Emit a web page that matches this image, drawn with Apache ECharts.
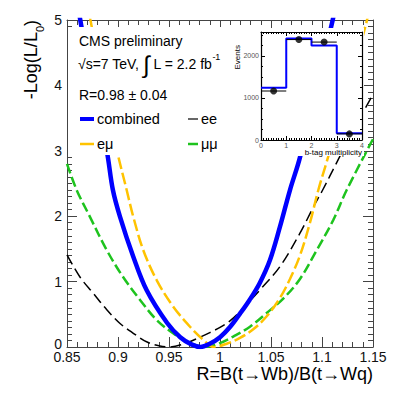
<!DOCTYPE html>
<html><head><meta charset="utf-8">
<script src="https://cdn.jsdelivr.net/npm/echarts/dist/echarts.min.js"></script>
<style>html,body{margin:0;padding:0;background:#fff}#c{width:415px;height:399px}</style>
</head><body><div id="c"></div>
<script>
// ---- main likelihood scans: [R, -Log(L/L0)] ----
const combinedScan = [[0.860,5.4],[0.863,5.0],[0.876,3.95],[0.889,3.0],[0.895,2.40],[0.902,1.99],[0.915,1.38],[0.928,0.87],[0.948,0.37],[0.961,0.15],[0.972,0.04],[0.981,0.0],[0.990,0.05],[1.000,0.15],[1.010,0.31],[1.0196,0.51],[1.029,0.72],[1.039,0.98],[1.049,1.33],[1.0588,1.84],[1.0686,2.40],[1.0784,2.90],[1.095,4.0],[1.1105,5.0],[1.114,5.3]];
const emuScan = [[0.870,5.3],[0.873,5.0],[0.886,3.95],[0.899,3.0],[0.9085,2.40],[0.915,1.99],[0.9248,1.48],[0.938,1.02],[0.954,0.62],[0.9706,0.31],[0.9836,0.11],[0.994,0.0],[1.0066,0.05],[1.0196,0.14],[1.0326,0.27],[1.0458,0.47],[1.0588,0.75],[1.0686,1.04],[1.0784,1.40],[1.0882,1.90],[1.0964,2.40],[1.1046,2.83],[1.118,3.55],[1.131,4.25],[1.143,4.93],[1.147,5.2]];
const eeScan = [[0.85,1.41],[0.8627,1.07],[0.8758,0.82],[0.889,0.57],[0.902,0.36],[0.915,0.21],[0.928,0.08],[0.941,0.015],[0.950,0.0],[0.967,0.06],[0.9804,0.15],[0.990,0.22],[1.000,0.30],[1.0098,0.40],[1.0196,0.54],[1.029,0.70],[1.039,0.87],[1.0588,1.23],[1.0784,1.74],[1.0915,2.14],[1.1013,2.42],[1.1144,2.82],[1.130,3.30],[1.150,3.86]];
const mumuScan = [[0.85,2.80],[0.8595,2.40],[0.8725,1.99],[0.889,1.48],[0.905,1.07],[0.9216,0.72],[0.938,0.41],[0.954,0.21],[0.9706,0.06],[0.985,0.0],[1.000,0.06],[1.013,0.16],[1.0294,0.31],[1.0458,0.52],[1.062,0.74],[1.0784,1.04],[1.0948,1.48],[1.111,1.94],[1.1242,2.40],[1.150,3.18]];

// ---- inset: b-tag multiplicity ----
const binEdges = [0,1,2,3,4];
const binCenters = [0.5,1.5,2.5,3.5];
const mcEvents = [1246,2418,2246,158];
const dataEvents = [1166,2390,2330,145];

// ---- axis ticks ----
const xMin = 0.85, xMax = 1.15, xStep = 0.05;
const yMin = 0, yMax = 5, yStep = 1;
const insetXMax = 4, insetYMax = 2570;

const FONT = 'Liberation Sans, Arial, Helvetica, sans-serif';
const AX = '#444';

const chart = echarts.init(document.getElementById('c'), null, {renderer:'svg'});

const stepData = binEdges.map((e,i)=>[e, mcEvents[Math.min(i, mcEvents.length-1)]]);
const dataPts = binCenters.map((c,i)=>[c, dataEvents[i]]);

function mainX(pos, labels){
  return {type:'value', gridIndex:0, position:pos, min:xMin, max:xMax, interval:xStep,
    axisLine:{show:true, onZero:false, lineStyle:{color:AX, width:1}},
    axisTick:{show:true, inside:true, length:10, lineStyle:{color:AX}},
    minorTick:{show:true, splitNumber:5, length:5, lineStyle:{color:AX}},
    axisLabel:{show:labels, fontFamily:FONT, fontSize:14, lineHeight:10, color:'#111', margin:5,
      formatter:v=>String(+(+v).toFixed(2))},
    splitLine:{show:false}, minorSplitLine:{show:false}};
}
function mainY(pos, labels){
  return {type:'value', gridIndex:0, position:pos, min:yMin, max:yMax, interval:yStep,
    axisLine:{show:true, onZero:false, lineStyle:{color:AX, width:1}},
    axisTick:{show:true, inside:true, length:10, lineStyle:{color:AX}},
    minorTick:{show:true, splitNumber:10, length:5, lineStyle:{color:AX}},
    axisLabel:{show:labels, fontFamily:FONT, fontSize:14, lineHeight:9, color:'#111', margin:5,
      formatter:v=>(+v===0 ? '{z|0}' : String(v)),
      rich:{z:{fontFamily:FONT, fontSize:14, lineHeight:9, color:'#111', padding:[0,0,6,0]}}},
    splitLine:{show:false}};
}
function insetX(pos, labels){
  return {type:'value', gridIndex:1, position:pos, min:0, max:insetXMax, interval:1, z:20,
    axisLine:{show:true, onZero:false, lineStyle:{color:'#000', width:1.2}},
    axisTick:{show:true, inside:true, length:4, lineStyle:{color:'#000'}},
    minorTick:{show:true, splitNumber:10, length:2, lineStyle:{color:'#000'}},
    axisLabel:{show:labels, fontFamily:FONT, fontSize:7, color:'#555', margin:2},
    splitLine:{show:false}};
}
function insetY(pos, labels){
  return {type:'value', gridIndex:1, position:pos, min:0, max:insetYMax, interval:1000, z:20,
    axisLine:{show:true, onZero:false, lineStyle:{color:'#000', width:1.2}},
    axisTick:{show:true, inside:true, length:4, lineStyle:{color:'#000'}},
    minorTick:{show:true, splitNumber:4, length:2, lineStyle:{color:'#000'}},
    axisLabel:{show:labels, fontFamily:FONT, fontSize:7, color:'#555', margin:2, showMaxLabel:false,
      formatter:v=>String(v)},
    splitLine:{show:false}};
}

function scan(data, color, width, dash){
  return {type:'line', xAxisIndex:0, yAxisIndex:0, data:data, smooth:0.35, showSymbol:false,
    clip:true, z:3, lineStyle:{color:color, width:width, type:dash}, silent:true, animation:false};
}

const T = (x,y,text,size,extra)=>({type:'text', x:x, y:y, z:30,
  style:Object.assign({text:text, font:size+'px '+FONT, fontFamily:FONT, fontSize:size, fill:'#000',
    textAlign:'left', align:'left', textVerticalAlign:'middle', verticalAlign:'middle'}, extra||{})});
const L = (x1,x2,y,color,w)=>({type:'line', z:30, shape:{x1:x1,y1:y,x2:x2,y2:y}, style:{stroke:color, lineWidth:w}});

const option = {
  animation:false,
  backgroundColor:'#fff',
  grid:[{left:67, right:42, top:20, bottom:52},
        {left:261, right:53, top:32, bottom:259, z:20}],
  xAxis:[mainX('bottom',true), mainX('top',false), insetX('bottom',true), insetX('top',false)],
  yAxis:[mainY('left',true), mainY('right',false), insetY('left',true), insetY('right',false)],
  series:[
    scan(eeScan, '#000000', 1.5, [11,5]),
    scan(mumuScan, '#1ec31e', 2.5, [10,4]),
    scan(emuScan, '#ffc300', 2.5, [12,4]),
    scan(combinedScan, '#0000ff', 4.5, 'solid'),
    {type:'line', xAxisIndex:2, yAxisIndex:2, data:stepData, step:'end', showSymbol:false, z:21,
      lineStyle:{color:'#0000ff', width:2}, animation:false},
    {type:'custom', xAxisIndex:2, yAxisIndex:2, data:dataPts, z:22,
      renderItem:(params, api)=>{
        const x = api.value(0), y = api.value(1);
        const p1 = api.coord([x-0.5, y]), p2 = api.coord([x+0.5, y]);
        return {type:'line', shape:{x1:p1[0], y1:p1[1], x2:p2[0], y2:p2[1]}, style:{stroke:'#000', lineWidth:1}};
      }},
    {type:'scatter', xAxisIndex:2, yAxisIndex:2, data:dataPts, symbol:'circle', symbolSize:7, z:23,
      itemStyle:{color:'#000'}, animation:false}
  ],
  graphic:{elements:[
    {type:'rect', z:15, shape:{x:229, y:28, width:135, height:128}, style:{fill:'#fff'}},
    {type:'rect', z:15, shape:{x:68, y:27, width:161, height:128}, style:{fill:'#fff'}},
    T(79, 41, 'CMS preliminary', 14),
    {type:'text', x:78, y:64, z:30, style:{
      text:'{a|√s=7 TeV, }{i|∫}{a| L = 2.2 fb}{s|-1}', font:'14px '+FONT,
      textAlign:'left', align:'left', textVerticalAlign:'middle', verticalAlign:'middle',
      rich:{a:{fontFamily:FONT, fontSize:14, fill:'#000', color:'#000', lineHeight:24, verticalAlign:'middle'},
            i:{fontFamily:FONT, fontSize:24, fill:'#000', color:'#000', lineHeight:24, verticalAlign:'middle'},
            s:{fontFamily:FONT, fontSize:9, fill:'#000', color:'#000', lineHeight:22, verticalAlign:'top'}}}},
    T(79, 95, 'R=0.98 ± 0.04', 14),
    L(80, 94, 119, '#0000ff', 4),
    T(97, 119, 'combined', 14.5),
    L(188, 198, 119, '#000000', 1.2),
    T(201, 119, 'ee', 14.5),
    L(80, 94, 144, '#ffc300', 2.5),
    T(97, 144, 'eμ', 14.5),
    L(188, 198, 144, '#1ec31e', 2.5),
    T(201, 144, 'μμ', 14.5),
    {type:'text', x:31, y:20, z:30, rotation:Math.PI/2, style:{
      text:'{a|-Log(L/L}{b|0}{a|)}', font:'18px '+FONT,
      textAlign:'right', align:'right', textVerticalAlign:'middle', verticalAlign:'middle',
      rich:{a:{fontFamily:FONT, fontSize:18, fill:'#000', color:'#000', lineHeight:22, verticalAlign:'middle'},
            b:{fontFamily:FONT, fontSize:11, fill:'#000', color:'#000', lineHeight:28, verticalAlign:'bottom'}}}},
    T(373, 374, 'R=B(t→Wb)/B(t→Wq)', 18, {textAlign:'right', align:'right'}),
    {type:'text', x:237, y:45, z:30, rotation:Math.PI/2, style:{text:'Events', font:'8px '+FONT,
      fontSize:8, fill:'#000', textAlign:'right', align:'right', textVerticalAlign:'middle', verticalAlign:'middle'}},
    T(362, 152, 'b-tag multiplicity', 8, {textAlign:'right', align:'right'})
  ]}
};
chart.setOption(option);
</script>
</body></html>
